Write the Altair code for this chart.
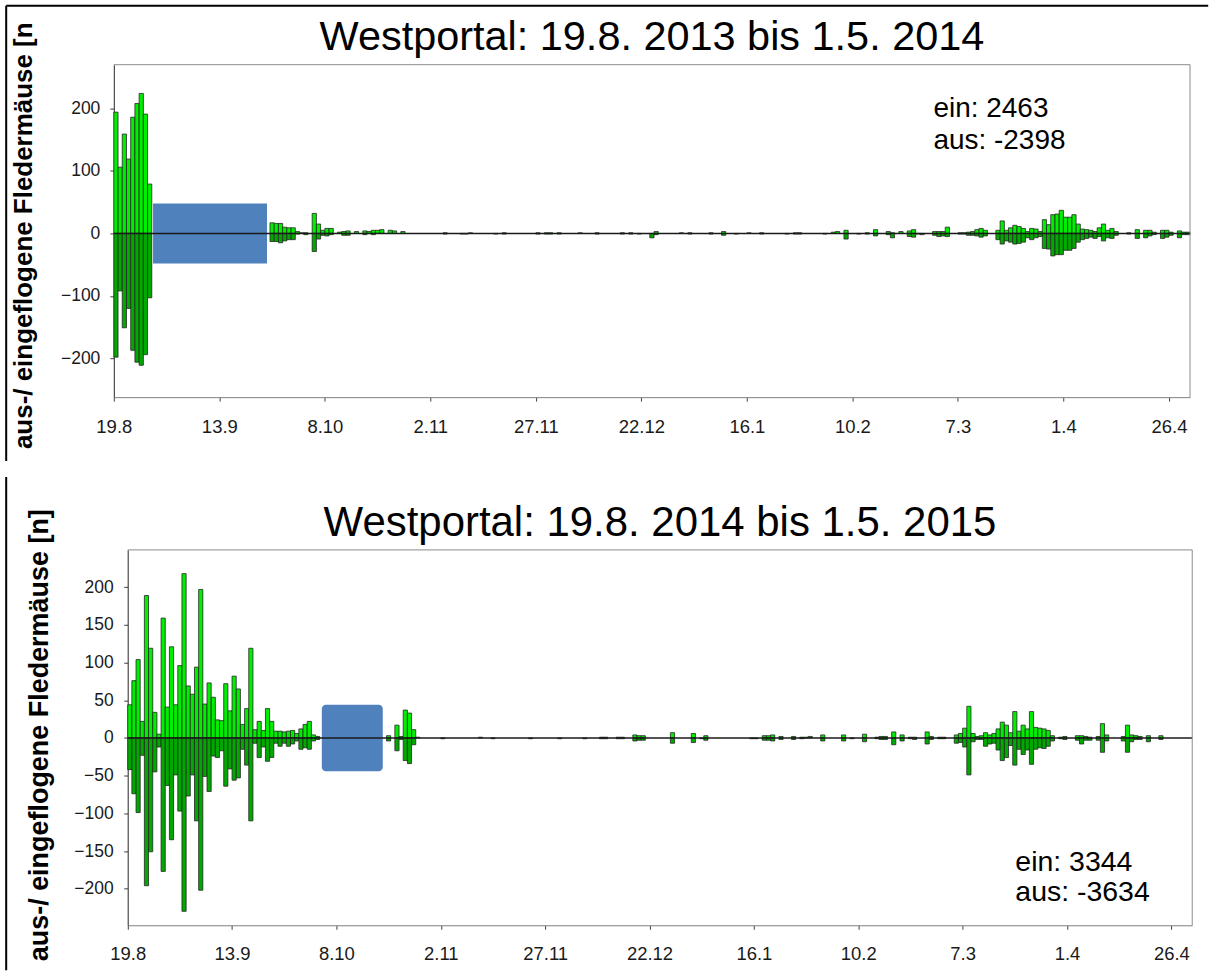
import altair as alt
import pandas as pd

FONT = "Liberation Sans"
N_DAYS = 255  # day 0 = 19.8., axis ends at 1.5.
TICK_DAYS = list(range(0, 251, 25))
TICK_LABELS = ["19.8", "13.9", "8.10", "2.11", "27.11", "22.12",
               "16.1", "10.2", "7.3", "1.4", "26.4"]

# ---- Winter 2013/14: day index -> bats per night (ein > 0, aus < 0) ----
EIN_2013 = {
    0: 194, 1: 106, 2: 159, 3: 119, 4: 186, 5: 208, 6: 224, 7: 191, 8: 79,
    37: 17, 38: 16, 39: 16, 40: 10, 41: 9, 42: 9, 43: 3, 44: 1, 45: 1,
    47: 32, 48: 15, 49: 5, 50: 8, 51: 8, 53: 2, 54: 3, 55: 4, 57: 3,
    59: 4, 60: 3, 61: 5, 62: 5, 63: 6, 65: 5, 66: 4, 68: 3,
    78: 1, 84: 1, 92: 1, 100: 1, 102: 1, 103: 1, 105: 1, 110: 1, 114: 1,
    120: 1, 122: 1, 128: 3, 134: 1, 136: 1, 141: 1, 144: 3, 150: 1, 153: 1,
    161: 1, 162: 1, 170: 2, 171: 3, 173: 5, 178: 1, 180: 6, 183: 3, 184: 1,
    186: 3, 188: 4, 189: 6, 194: 3, 195: 3, 196: 3, 197: 10, 200: 1, 201: 1,
    202: 2, 203: 3, 204: 6, 205: 8, 206: 5, 209: 5, 210: 20, 211: 5, 212: 9,
    213: 13, 214: 11, 215: 8, 216: 3, 217: 8, 218: 7, 219: 3, 220: 22,
    221: 14, 222: 30, 223: 31, 224: 37, 225: 26, 226: 26, 227: 30, 228: 15,
    229: 7, 230: 6, 231: 5, 232: 3, 233: 9, 234: 15, 235: 5, 236: 8, 237: 3,
    240: 1, 242: 6, 244: 5, 245: 5, 246: 2, 248: 5, 249: 5, 250: 2, 252: 4,
    253: 2, 254: 2,
}
AUS_2013 = {
    0: -198, 1: -92, 2: -151, 3: -120, 4: -187, 5: -206, 6: -211, 7: -194,
    8: -103,
    37: -13, 38: -13, 39: -15, 40: -12, 41: -10, 42: -10, 43: -1, 45: -2,
    47: -29, 48: -9, 49: -3, 50: -4, 51: -2, 54: -3, 55: -3, 59: -2, 61: -2,
    78: -1, 82: -1, 83: -1, 90: -1, 92: -1, 100: -1, 102: -1, 103: -1,
    105: -1, 114: -1, 120: -1, 122: -1, 124: -1, 127: -7, 128: -2, 136: -1,
    141: -1, 144: -3, 147: -1, 153: -1, 159: -1, 161: -1, 162: -1, 168: -1,
    173: -9, 176: -1, 178: -1, 180: -4, 183: -2, 184: -7, 188: -5, 189: -6,
    190: -1, 191: -2, 194: -3, 195: -5, 196: -4, 197: -5, 200: -1, 201: -1,
    202: -3, 203: -3, 204: -4, 205: -6, 206: -4, 209: -10, 210: -17,
    211: -12, 212: -14, 213: -17, 214: -16, 215: -14, 216: -7, 217: -10,
    218: -7, 219: -5, 220: -24, 221: -25, 222: -36, 223: -34, 224: -34,
    225: -27, 226: -27, 227: -24, 228: -14, 229: -10, 230: -8, 231: -6,
    232: -8, 233: -5, 234: -12, 235: -7, 236: -8, 237: -3, 240: -1, 242: -8,
    244: -7, 245: -4, 246: -2, 248: -8, 249: -6, 250: -3, 252: -7, 253: -2,
    254: -2,
}
GAP_2013 = {"start": 9.3, "end": 36.3, "low": -48, "high": 48}  # no recording
TOTALS_2013 = (2463, -2398)

# ---- Winter 2014/15 ----
EIN_2014 = {
    0: 44, 1: 76, 2: 104, 3: 22, 4: 189, 5: 119, 6: 34, 7: 5, 8: 159, 9: 41,
    10: 121, 11: 44, 12: 96, 13: 218, 14: 69, 15: 58, 16: 94, 17: 197,
    18: 45, 19: 73, 20: 54, 21: 24, 22: 23, 23: 72, 24: 36, 25: 82, 26: 65,
    27: 18, 28: 39, 29: 119, 30: 11, 31: 22, 32: 10, 33: 39, 34: 22, 35: 9,
    36: 9, 37: 8, 38: 9, 39: 10, 40: 6, 41: 12, 42: 18, 43: 22, 44: 4, 45: 2,
    62: 3, 64: 17, 65: 2, 66: 37, 67: 33, 68: 11, 69: 1,
    84: 1, 113: 1, 114: 1, 117: 1, 118: 1, 121: 4, 122: 3, 123: 3, 130: 7,
    135: 6, 138: 3, 152: 3, 153: 3, 154: 4, 156: 2, 159: 2, 161: 1, 162: 1,
    163: 2, 166: 4, 171: 4, 176: 5, 179: 1, 180: 2, 181: 2, 183: 8, 185: 4,
    187: 1, 188: 1, 191: 8, 192: 2, 194: 1, 195: 1, 198: 4, 199: 6, 200: 13,
    201: 42, 202: 6, 203: 2, 204: 3, 205: 7, 206: 4, 207: 6, 208: 12,
    209: 21, 210: 17, 211: 7, 212: 35, 213: 9, 214: 17, 215: 12, 216: 35,
    217: 14, 218: 13, 219: 12, 220: 10, 221: 3, 223: 1, 224: 2, 227: 3,
    228: 3, 229: 2, 230: 1, 232: 2, 233: 19, 234: 4, 238: 2, 239: 17, 240: 4,
    241: 3, 242: 2, 244: 3, 247: 3,
}
AUS_2014 = {
    0: -42, 1: -74, 2: -99, 3: -23, 4: -196, 5: -151, 6: -45, 7: -12,
    8: -177, 9: -63, 10: -135, 11: -49, 12: -97, 13: -230, 14: -77, 15: -49,
    16: -110, 17: -202, 18: -51, 19: -71, 20: -24, 21: -26, 22: -17, 23: -64,
    24: -41, 25: -56, 26: -53, 27: -15, 28: -36, 29: -110, 30: -7, 31: -26,
    32: -12, 33: -31, 34: -26, 35: -7, 36: -11, 37: -7, 38: -11, 39: -8,
    40: -4, 41: -15, 42: -13, 43: -15, 44: -4, 45: -2,
    62: -4, 64: -17, 65: -2, 66: -30, 67: -34, 68: -9,
    75: -1, 87: -1, 96: -1, 103: -1, 109: -1, 113: -1, 114: -1, 117: -1,
    118: -1, 121: -4, 122: -3, 123: -3, 130: -7, 135: -6, 137: -1, 138: -3,
    149: -1, 150: -1, 152: -3, 153: -3, 154: -4, 156: -2, 159: -2, 161: -1,
    166: -4, 171: -4, 173: -1, 176: -5, 179: -1, 180: -2, 181: -2, 183: -9,
    185: -4, 187: -1, 188: -2, 191: -8, 192: -2, 194: -1, 195: -1, 198: -7,
    199: -6, 200: -12, 201: -49, 202: -5, 203: -2, 204: -2, 205: -11,
    206: -8, 207: -7, 208: -16, 209: -30, 210: -26, 211: -10, 212: -36,
    213: -15, 214: -22, 215: -16, 216: -35, 217: -15, 218: -13, 219: -14,
    220: -11, 221: -4, 223: -1, 224: -2, 227: -3, 228: -8, 229: -3, 230: -3,
    232: -3, 233: -19, 234: -4, 238: -4, 239: -19, 240: -5, 241: -2,
    242: -2, 244: -5, 247: -2,
}
GAP_2014 = {"start": 46.5, "end": 61.1, "low": -44, "high": 44}
TOTALS_2014 = (3344, -3634)

Y_TITLE = "aus-/ eingeflogene Fledermäuse [n]"
EIN_COLOR = "#00EE00"
AUS_COLOR = "#00A800"
GAP_COLOR = "#4F81BD"
FRAME = "#8c8c8c"

ONE = pd.DataFrame({"_": [0]})
LABEL_EXPR = f"{TICK_LABELS}[round(datum.value / 25)]"


def day_table(ein, aus):
    rows = []
    for direction, counts in (("ein", ein), ("aus", aus)):
        for day, n in counts.items():
            rows.append({"day": day, "end": day + 1, "count": n,
                         "richtung": direction})
    return pd.DataFrame(rows)


def text(content, x, y, size, **kw):
    return alt.Chart(ONE).mark_text(
        text=content, font=FONT, fontSize=size, color="black",
        align=kw.pop("align", "left"), baseline="alphabetic", **kw
    ).encode(x=alt.value(x), y=alt.value(y))


def line(x, y, x2=None, y2=None, color="black", width=2):
    enc = {"x": alt.value(x), "y": alt.value(y)}
    if x2 is not None:
        enc["x2"] = alt.value(x2)
    if y2 is not None:
        enc["y2"] = alt.value(y2)
    return alt.Chart(ONE).mark_rule(color=color, strokeWidth=width).encode(**enc)


def panel(ein, aus, gap, totals, title, width, height, y_domain, y_ticks, geo):
    left = geo["inset"]          # plot frame starts this far inside the view
    x_scale = alt.Scale(domain=[0, N_DAYS], nice=False, zero=False,
                        range=[left, width])
    y_scale = alt.Scale(domain=y_domain, nice=False)

    bars = alt.Chart(day_table(ein, aus)).mark_bar(
        stroke="#262626", strokeWidth=0.8
    ).encode(
        x=alt.X("day:Q", scale=x_scale, title=None, axis=alt.Axis(
            values=TICK_DAYS, labelExpr=LABEL_EXPR, grid=False, tickSize=4,
            labelPadding=geo["x_pad"], labelFontSize=geo["x_size"],
            labelFont=FONT, labelColor="#1a1a1a", domainColor="#7f7f7f",
            tickColor="#404040", labelFlush=False)),
        x2="end:Q",
        y=alt.Y("count:Q", scale=y_scale, title=None, axis=alt.Axis(
            values=y_ticks, grid=False, tickSize=4, labelPadding=geo["y_pad"],
            labelFontSize=17.5, labelFont=FONT, labelColor="#1a1a1a",
            domainColor="#262626", tickColor="#404040", offset=-left)),
        y2=alt.datum(0),
        color=alt.Color("richtung:N", legend=None, scale=alt.Scale(
            domain=["ein", "aus"], range=[EIN_COLOR, AUS_COLOR])),
    )

    gap_box = alt.Chart(pd.DataFrame([gap])).mark_rect(
        color=GAP_COLOR, cornerRadius=geo["gap_radius"]
    ).encode(x="start:Q", x2="end:Q", y="low:Q", y2="high:Q")

    zero = alt.Chart(ONE).mark_rule(color="#1a1a1a", strokeWidth=1.5).encode(
        y=alt.datum(0), x=alt.value(left), x2=alt.value(width))

    frame = [
        line(left, 0, x2=width, color=FRAME, width=1),
        line(width, 0, y2=height, color=FRAME, width=1),
    ]

    layers = [
        bars, gap_box, zero, *frame,
        text(title, (left + width) / 2, geo["title_y"], geo["title_size"],
             align="center"),
        text(geo["y_title"], geo["yt_x"], geo["yt_y"], geo["yt_size"],
             angle=270, fontWeight="bold"),
        text(f"ein: {totals[0]}", geo["tot_x"], geo["tot_y"], geo["tot_size"]),
        text(f"aus: {totals[1]}", geo["tot_x"], geo["tot_y"] + geo["tot_lh"],
             geo["tot_size"]),
    ] + [line(**b) for b in geo["borders"]]
    return alt.layer(*layers).properties(
        width=width, height=height, view=alt.ViewBackground(strokeOpacity=0))


top = panel(
    EIN_2013, AUS_2013, GAP_2013, TOTALS_2013,
    "Westportal: 19.8. 2013 bis 1.5. 2014",
    1078, 333, [-262, 270], [-200, -100, 0, 100, 200],
    {
        "inset": 0, "x_pad": 16, "x_size": 18.5, "y_pad": 10, "gap_radius": 0,
        "title_y": -14.3, "title_size": 41.5,
        "y_title": Y_TITLE[:-1], "yt_x": -81.8, "yt_y": 385, "yt_size": 26,
        "tot_x": 821, "tot_y": 52, "tot_lh": 32, "tot_size": 28,
        "borders": [
            {"x": -107.8, "x2": 1096.2, "y": -59},
            {"x": -107.8, "y": -59, "y2": 397},
        ],
    },
)

bottom = panel(
    EIN_2014, AUS_2014, GAP_2014, TOTALS_2014,
    "Westportal: 19.8. 2014 bis 1.5. 2015",
    1080.2, 376, [-248.5, 249.5], [-200, -150, -100, -50, 0, 50, 100, 150, 200],
    {
        "inset": 13.9, "x_pad": 15, "x_size": 18.5, "y_pad": 10.5,
        "gap_radius": 4,
        "title_y": -13.7, "title_size": 42,
        "y_title": Y_TITLE, "yt_x": -65.8, "yt_y": 412, "yt_size": 27,
        "tot_x": 903, "tot_y": 322, "tot_lh": 30, "tot_size": 28.5,
        "borders": [
            {"x": -107.8, "y": -73, "y2": 421},
        ],
    },
)

chart = alt.ConcatChart(
    concat=[top, bottom], columns=1, spacing=14,
    padding={"left": 5, "top": 4, "right": 0, "bottom": 0},
)

chart.save("out.html", embed_options={"renderer": "svg", "actions": False})
